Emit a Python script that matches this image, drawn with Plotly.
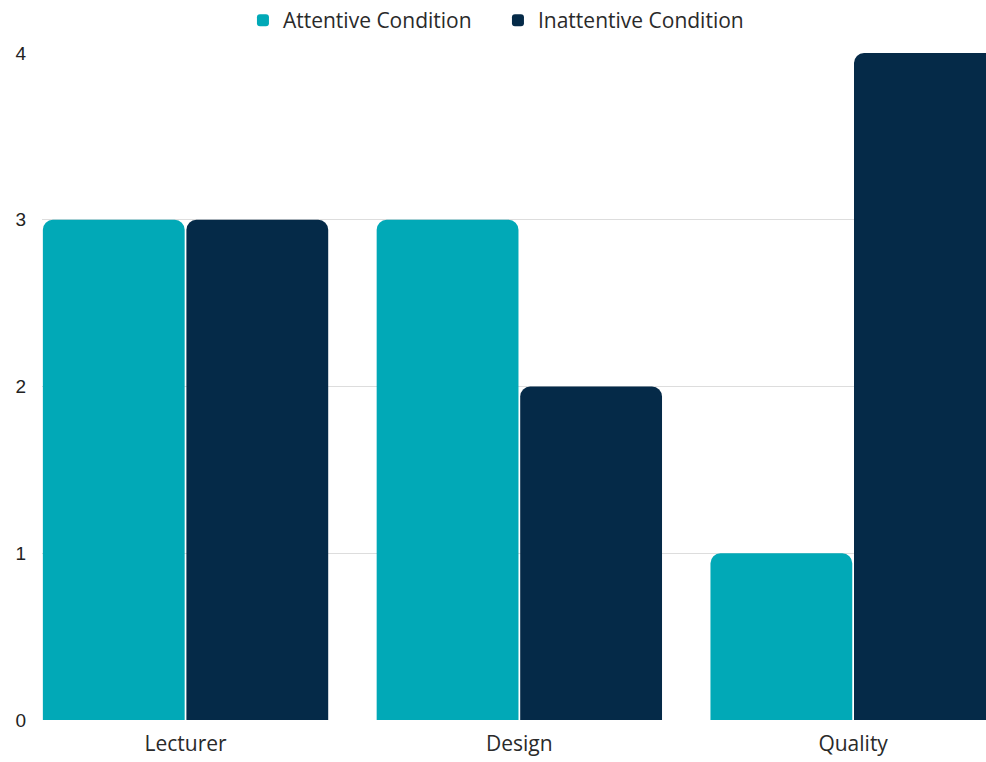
import plotly.graph_objects as go

categories = ["Lecturer", "Design", "Quality"]
attentive = [3, 3, 1]
inattentive = [3, 2, 4]
y_ticks = [0, 1, 2, 3, 4]

fig = go.Figure()
fig.add_trace(go.Bar(name="Attentive Condition", x=categories, y=attentive,
                     marker=dict(color="#01A9B7", line=dict(width=0))))
fig.add_trace(go.Bar(name="Inattentive Condition", x=categories, y=inattentive,
                     marker=dict(color="#052A48", line=dict(width=0))))

fig.update_layout(
    width=986, height=762,
    margin=dict(l=42, r=0, t=53, b=42, pad=0, autoexpand=False),
    paper_bgcolor="white", plot_bgcolor="white",
    barmode="group", bargap=0.14, bargroupgap=0.012,
    barcornerradius=10,
    font=dict(family="Open Sans", size=21, color="#2a2a2a"),
    legend=dict(orientation="h", x=0.483, xanchor="center", yref="container",
                y=0.973, yanchor="middle", entrywidth=210, entrywidthmode="pixels",
                font=dict(size=21, color="#2a2a2a"), itemsizing="constant",
                traceorder="normal"),
    xaxis=dict(range=[-0.43, 2.398], showgrid=False, zeroline=False, showline=False,
               ticks="", ticklabelstandoff=9,
               tickfont=dict(size=21, family="Open Sans", color="#2a2a2a")),
    yaxis=dict(range=[0, 4], tickvals=y_ticks, showgrid=True, gridcolor="#dddddd",
               gridwidth=1, zeroline=False, showline=False, ticks="",
               ticklabelstandoff=15,
               tickfont=dict(size=19, family="Liberation Sans", color="#222222")),
)

fig.write_html("out.html")
